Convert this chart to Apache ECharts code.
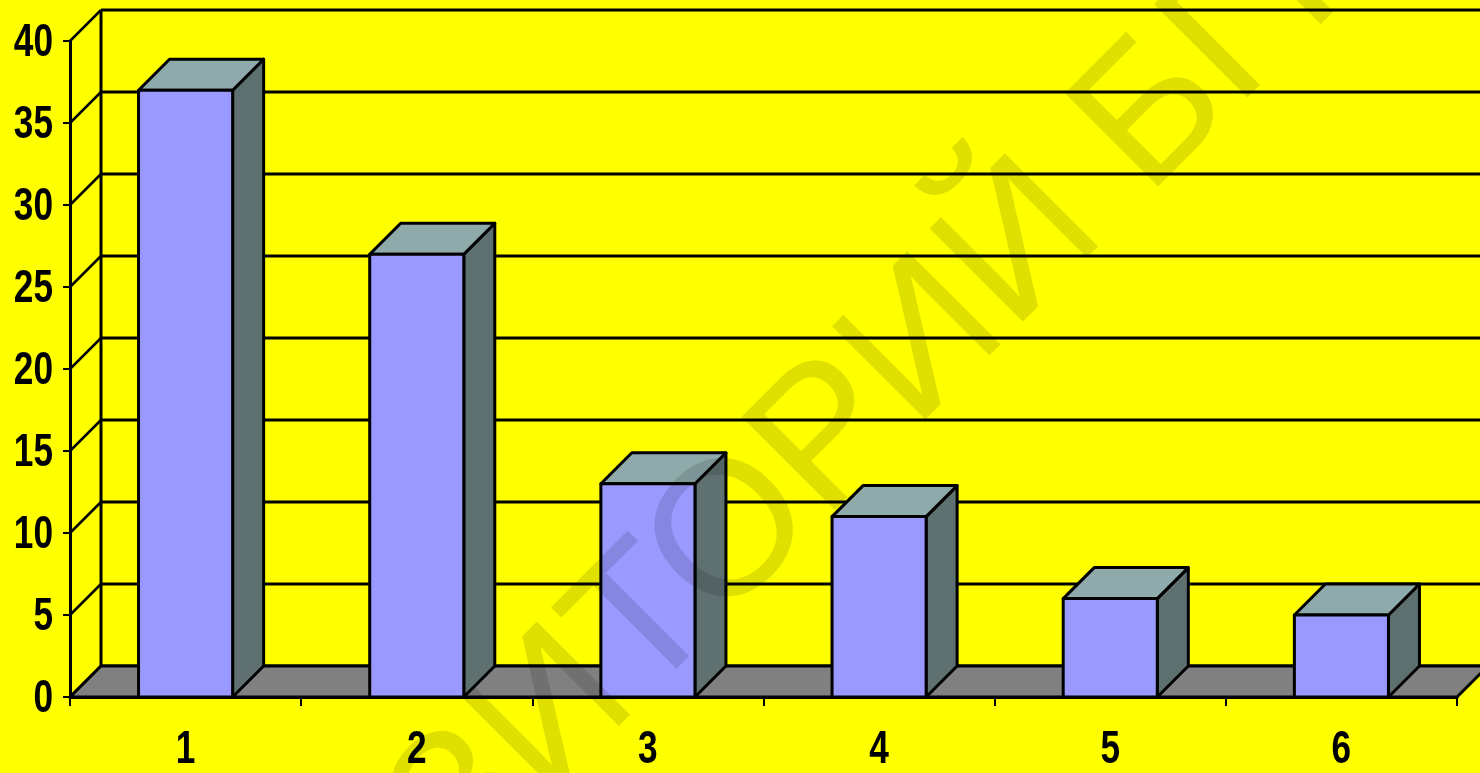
<!DOCTYPE html>
<html><head><meta charset="utf-8">
<script src="https://cdn.jsdelivr.net/npm/echarts@6/dist/echarts.min.js"></script>
<style>html,body{margin:0;padding:0;background:#ffff00;overflow:hidden}#c{width:1480px;height:773px;}</style>
</head><body><div id="c"></div>
<script>
// ---- data ----
const categories = ['1', '2', '3', '4', '5', '6'];
const values = [37, 27, 13, 11, 6, 5];
const yTicks = [0, 5, 10, 15, 20, 25, 30, 35, 40];
const watermarkText = 'РЕПОЗИТОРИЙ БГПУ';

// ---- style constants ----
const DX = 31, DY = -31;
const labelFont = 'bold 47px "Liberation Sans", Arial, sans-serif';

function wallRender(params, api) {
  const cs = params.coordSys;
  const x0 = cs.x, x1 = cs.x + cs.width;
  const yb = api.coord([0, yTicks[0]])[1];
  const yt = api.coord([0, yTicks[yTicks.length - 1]])[1];
  const children = [];
  yTicks.forEach(function (t) {
    const y = api.coord([0, t])[1];
    children.push({type: 'line', shape: {x1: x0, y1: y, x2: x0 + DX, y2: y + DY}, style: {stroke: '#000', lineWidth: 2.5}});
    children.push({type: 'line', shape: {x1: x0 + DX, y1: y + DY, x2: x1 + DX + 60, y2: y + DY}, style: {stroke: '#000', lineWidth: 3}});
  });
  children.push({type: 'polygon', shape: {points: [[x0, yb], [x1, yb], [x1 + DX, yb + DY], [x0 + DX, yb + DY]]},
    style: {fill: '#808080', stroke: '#000', lineWidth: 3, lineJoin: 'round'}});
  children.push({type: 'line', shape: {x1: x0 + DX, y1: yt + DY, x2: x0 + DX, y2: yb + DY}, style: {stroke: '#000', lineWidth: 3}});
  return {type: 'group', children: children};
}

function barRender(params, api) {
  const idx = api.value(0), v = api.value(1);
  const top = api.coord([idx, v]);
  const base = api.coord([idx, 0]);
  const bw = api.size([1, 0])[0] * 0.407;
  const l = top[0] - bw / 2, r = top[0] + bw / 2, yt = top[1], yb = base[1];
  const st = {stroke: '#000', lineWidth: 3, lineJoin: 'round'};
  return {type: 'group', children: [
    {type: 'polygon', shape: {points: [[r, yb], [r, yt], [r + DX, yt + DY], [r + DX, yb + DY]]}, style: Object.assign({fill: '#5f7070'}, st)},
    {type: 'polygon', shape: {points: [[l, yt], [r, yt], [r + DX, yt + DY], [l + DX, yt + DY]]}, style: Object.assign({fill: '#8faaab'}, st)},
    {type: 'rect', shape: {x: l, y: yt, width: bw, height: yb - yt}, style: Object.assign({fill: '#9999ff'}, st)}
  ]};
}

function yLabelRender(params, api) {
  const t = api.value(1);
  const p = api.coord([0, t]);
  return {type: 'text', x: params.coordSys.x - 17, y: p[1] + 2, scaleX: 0.75,
    style: {text: String(t), fill: '#000', font: labelFont, align: 'right', verticalAlign: 'middle'}};
}

function xLabelRender(params, api) {
  const idx = api.value(0);
  const p = api.coord([idx, 0]);
  return {type: 'text', x: p[0], y: p[1] + 53, scaleX: 0.75,
    style: {text: categories[idx], fill: '#000', font: labelFont, align: 'center', verticalAlign: 'middle'}};
}

const chart = echarts.init(document.getElementById('c'), null, {renderer: 'canvas'});
chart.setOption({
  backgroundColor: '#ffff00',
  animation: false,
  grid: {left: 70, right: 23, top: 41, bottom: 76, outerBoundsMode: 'none'},
  xAxis: {
    type: 'category', data: categories, boundaryGap: true,
    axisLine: {show: true, lineStyle: {color: '#000', width: 3}},
    axisTick: {show: true, length: 9, lineStyle: {color: '#000', width: 2}},
    axisLabel: {show: false},
    splitLine: {show: false}, z: 5
  },
  yAxis: {
    type: 'value', min: 0, max: 40, interval: 5,
    axisLine: {show: true, lineStyle: {color: '#000', width: 3}},
    axisTick: {show: true, length: 7, lineStyle: {color: '#000', width: 2}},
    axisLabel: {show: false},
    splitLine: {show: false}, z: 5
  },
  series: [
    {type: 'custom', coordinateSystem: 'cartesian2d', renderItem: wallRender, data: [[0, 0]], z: 1, silent: true},
    {type: 'custom', coordinateSystem: 'cartesian2d', renderItem: barRender,
      data: values.map(function (v, i) { return [i, v]; }), z: 2},
    {type: 'custom', coordinateSystem: 'cartesian2d', renderItem: yLabelRender,
      data: yTicks.map(function (t) { return [0, t]; }), z: 6, silent: true},
    {type: 'custom', coordinateSystem: 'cartesian2d', renderItem: xLabelRender,
      data: categories.map(function (c, i) { return [i, 0]; }), z: 6, silent: true}
  ],
  graphic: [{
    type: 'text', x: 748, y: 522, rotation: Math.PI / 4, z: 100, silent: true,
    style: {text: watermarkText, font: 'normal 192px "Liberation Sans", Arial, sans-serif',
      fill: 'rgba(0,0,0,0.12)', align: 'center', verticalAlign: 'middle'}
  }]
});
</script>
</body></html>
